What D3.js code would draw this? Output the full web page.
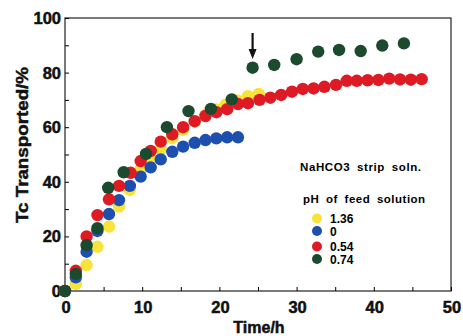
<!DOCTYPE html>
<html>
<head>
<meta charset="utf-8">
<script src="https://cdn.jsdelivr.net/npm/d3@7"></script>
<style>
  body { margin: 0; background: #fff; }
  svg { display: block; font-family: "Liberation Sans", Arial, sans-serif; font-weight: bold; }
  .heavy { stroke: #111; stroke-width: 0.5; fill: #111; }
</style>
</head>
<body>
<svg id="chart" width="463" height="336"></svg>
<script>
// pH 1.36 (yellow)
const yellowT = [0, 1.4, 2.8, 4.2, 5.7, 7.0, 8.4, 9.8, 11.1, 12.4, 13.9, 15.3, 16.8, 18.2, 19.6, 20.8, 22.3, 23.7, 25.1];
const yellowV = [0, 2.6, 9.5, 16.2, 23.6, 30.9, 37.0, 44.6, 48.6, 51.9, 56, 59, 62, 64.5, 66.5, 68.2, 69.8, 71.4, 72.2];
// pH 0 (blue)
const blueT = [0, 1.4, 2.8, 4.2, 5.7, 7.0, 8.4, 9.8, 11.1, 12.4, 13.9, 15.3, 16.8, 18.2, 19.6, 21.0, 22.4];
const blueV = [0, 5.0, 14.4, 22.0, 28.2, 33.3, 38.5, 41.9, 45.3, 48.2, 51.0, 52.9, 54.3, 55.3, 55.9, 56.3, 56.3];
// pH 0.54 (red)
const redT = [0, 1.4, 2.8, 4.2, 5.7, 7.0, 8.5, 9.8, 11.1, 12.4, 13.9, 15.3, 16.8, 18.2, 19.6, 21.0, 22.4, 23.7, 25.2, 26.6, 28.0, 29.4, 30.8, 32.2, 33.6, 35.1, 36.5, 37.8, 39.2, 40.6, 42.0, 43.4, 44.8, 46.2];
const redV = [0, 7.4, 20.0, 27.8, 33.6, 38.5, 43.3, 47.6, 51.3, 54.7, 57.4, 60.0, 62.2, 64.1, 65.5, 66.6, 68.5, 68.8, 70.0, 70.8, 71.8, 73.0, 74.0, 74.2, 74.8, 75.5, 77.0, 77.0, 77.2, 77.3, 77.8, 77.5, 77.4, 77.6];
// pH 0.74 (green)
const greenT = [0, 1.4, 2.8, 4.2, 5.6, 7.6, 10.5, 13.2, 16.0, 18.9, 21.6, 24.3, 27.1, 30.0, 32.8, 35.5, 38.3, 41.1, 43.9];
const greenV = [0, 6.2, 16.8, 23.0, 37.8, 43.5, 50.2, 60.0, 65.9, 66.7, 70.2, 81.8, 82.8, 84.9, 87.7, 88.3, 87.9, 89.9, 90.7];

const legendLabels = ["1.36", "0", "0.54", "0.74"];
const colors = ["#f6e43a", "#1d4fae", "#de1b24", "#1c4a2e"];
const xTicks = [0, 10, 20, 30, 40, 50];
const yTicks = [0, 20, 40, 60, 80, 100];

const series = [
  { t: yellowT, v: yellowV, color: colors[0] },
  { t: blueT, v: blueV, color: colors[1] },
  { t: redT, v: redV, color: colors[2] },
  { t: greenT, v: greenV, color: colors[3] },
];

const svg = d3.select("#chart");
const plotL = 65, plotR = 451, plotT = 18, plotB = 291;

const x = d3.scaleLinear().domain([0, 50]).range([plotL, plotR]);
const y = d3.scaleLinear().domain([0, 100]).range([plotB, plotT]);

// frame
svg.append("rect")
  .attr("x", plotL).attr("y", plotT)
  .attr("width", plotR - plotL).attr("height", plotB - plotT)
  .attr("fill", "none").attr("stroke", "#222").attr("stroke-width", 1.2);

// inward ticks
svg.append("g").attr("transform", `translate(0,${plotB})`)
  .call(d3.axisTop(x).tickValues(d3.range(0, 51, 5)).tickSize(4).tickFormat(""))
  .call(g => g.select(".domain").remove());
svg.append("g").attr("transform", `translate(${plotL},0)`)
  .call(d3.axisRight(y).tickValues(d3.range(0, 101, 10)).tickSize(4).tickFormat(""))
  .call(g => g.select(".domain").remove());

// tick labels
svg.append("g").selectAll("text").data(xTicks).join("text")
  .attr("class", "heavy")
  .attr("x", d => x(d) + 1).attr("y", 313)
  .attr("text-anchor", "middle").attr("font-size", 16.5)
  .text(d => d);
svg.append("g").selectAll("text").data(yTicks).join("text")
  .attr("class", "heavy")
  .attr("x", 61).attr("y", d => y(d) + 6)
  .attr("text-anchor", "end").attr("font-size", 16.5)
  .text(d => d);

// axis titles
svg.append("text")
  .attr("class", "heavy")
  .attr("x", 259).attr("y", 333)
  .attr("text-anchor", "middle").attr("font-size", 16)
  .text("Time/h");
svg.append("text")
  .attr("class", "heavy")
  .attr("transform", "translate(28,145) rotate(-90)")
  .attr("text-anchor", "middle").attr("font-size", 17)
  .attr("textLength", 156).attr("lengthAdjust", "spacingAndGlyphs")
  .text("Tc Transported/%");

// points
series.forEach(s => {
  svg.append("g").selectAll("circle")
    .data(s.t.map((t, i) => [t, s.v[i]]))
    .join("circle")
    .attr("cx", d => x(d[0])).attr("cy", d => y(d[1]))
    .attr("r", 6.2)
    .attr("fill", s.color);
});

// arrow over the pH-change point
const arrowX = x(greenT[11]);
svg.append("line")
  .attr("x1", arrowX).attr("x2", arrowX)
  .attr("y1", 33).attr("y2", 52)
  .attr("stroke", "#111").attr("stroke-width", 2.2);
svg.append("path")
  .attr("d", `M${arrowX - 4},49L${arrowX + 4},49L${arrowX},59Z`)
  .attr("fill", "#111");

// legend
svg.append("text")
  .attr("x", 300).attr("y", 171).attr("font-size", 11.5)
  .attr("letter-spacing", 0.6).attr("word-spacing", 3)
  .text("NaHCO3 strip soln.");
svg.append("text")
  .attr("x", 303).attr("y", 203).attr("font-size", 11.5)
  .attr("letter-spacing", 0.5).attr("word-spacing", 3)
  .text("pH of feed solution");

const legendY = [218.5, 231, 246.5, 259];
const legend = svg.append("g").selectAll("g").data(legendLabels).join("g")
  .attr("transform", (d, i) => `translate(0,${legendY[i]})`);
legend.append("circle")
  .attr("cx", 317).attr("cy", 0).attr("r", 5)
  .attr("fill", (d, i) => colors[i]);
legend.append("text")
  .attr("x", 330).attr("y", 4.5).attr("font-size", 12)
  .text(d => d);
</script>
</body>
</html>
